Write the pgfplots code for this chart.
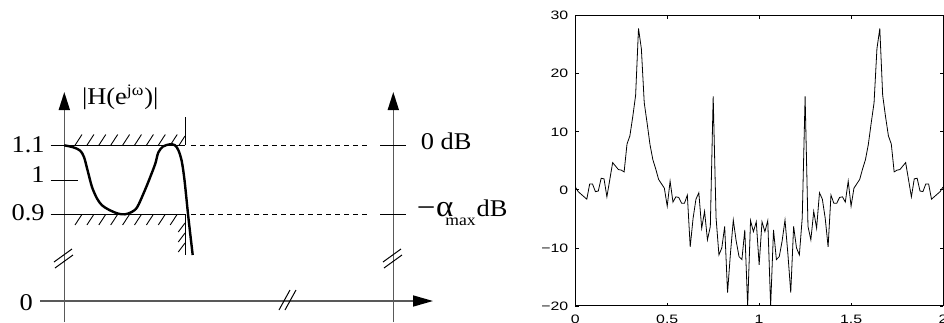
\documentclass[border=0pt]{standalone}
\usepackage{pgfplots}
\pgfplotsset{compat=1.18}
\usepackage{pgfplotstable}
\usepackage{fontspec}
\setmainfont[FakeStretch=1.1]{Liberation Serif}
\newfontfamily\plotsans[FakeStretch=1.3]{Liberation Sans}
\usetikzlibrary{arrows.meta}

\pgfplotstableread{
k y
0 0.5
1 -0.3
4 -1.6
5 1.0
6 1.0
7 -0.3
8 -0.2
9 2.0
10 1.9
11 -1.2
13 4.7
15 3.5
16 3.4
17 3.1
18 7.9
19 9.3
20 12.6
21 16.3
22 27.8
23 24.3
24 15.0
25 11.5
26 7.8
27 5.2
28 3.6
29 1.8
31 0.3
32 -2.8
33 1.5
34 -2.1
35 -1.2
36 -1.3
37 -2.3
38 -2.3
39 -0.9
40 -9.8
41 -4.9
42 -1.6
43 -0.5
44 -6.6
45 -3.7
46 -8.6
47 -6.3
48 16.1
49 -4.8
50 -11.2
51 -10.0
52 -6.3
53 -17.7
54 -11.0
55 -5.2
56 -8.8
57 -11.5
58 -12.0
59 -6.9
60 -20.0
61 -5.3
62 -7.2
63 -5.5
64 -12.9
65 -5.5
66 -7.2
67 -5.3
68 -20.0
69 -6.9
70 -12.0
71 -11.5
72 -8.8
73 -5.2
74 -11.0
75 -17.7
76 -6.3
77 -10.0
78 -11.2
79 -4.8
80 16.1
81 -6.3
82 -8.6
83 -3.7
84 -6.6
85 -0.5
86 -1.6
87 -4.9
88 -9.8
89 -0.9
90 -2.3
91 -2.3
92 -1.3
93 -1.2
94 -2.1
95 1.5
96 -2.8
97 0.3
99 1.8
100 3.6
101 5.2
102 7.8
103 11.5
104 15.0
105 24.3
106 27.8
107 16.3
108 12.6
109 9.3
110 7.9
111 3.1
112 3.4
113 3.5
115 4.7
117 -1.2
118 1.9
119 2.0
120 -0.2
121 -0.3
122 1.0
123 1.0
124 -1.6
127 -0.3
128 0.5
}\spectrum

\begin{document}
\begin{tikzpicture}[x=1pt,y=1pt]
% ---------------- left schematic (coordinates in reference pixels, y downwards)
\begin{axis}[
  at={(0pt,0pt)}, anchor=south west,
  scale only axis, width=236pt, height=161pt,
  xmin=0, xmax=472, ymin=0, ymax=322, y dir=reverse,
  hide axis, clip=false, unbounded coords=jump,
]
% axes with arrows
\addplot[black!65, line width=0.8pt, -{Triangle[length=9pt,width=5.5pt,black]}] coordinates {(64.3,322) (64.3,92)};
\addplot[black!65, line width=0.8pt, -{Triangle[length=9pt,width=5.5pt,black]}] coordinates {(393.3,322) (393.3,92)};
\addplot[black!65, line width=0.8pt, -{Triangle[length=10pt,width=5.5pt,black]}] coordinates {(40,301) (433,301)};
% break marks
\addplot[black, line width=0.5pt] coordinates {(54,262) (72,249) (nan,nan) (55,268) (73,255)};
\addplot[black, line width=0.5pt] coordinates {(383,262) (401,249) (nan,nan) (384,268) (402,255)};
\addplot[black, line width=0.5pt] coordinates {(279,310) (290,290) (nan,nan) (285,310) (296,290)};
% tolerance lines
\addplot[black, line width=0.5pt] coordinates {(50.7,145.3) (185,145.3) (nan,nan) (50.7,214.3) (185,214.3)};
\addplot[black, line width=0.5pt] coordinates {(50.7,180) (78,180)};
\addplot[black, line width=0.5pt] coordinates {(185,117) (185,145.3) (nan,nan) (185,214.3) (185,255)};
\addplot[black, line width=0.5pt, dash pattern=on 2.5pt off 2pt] coordinates {(191,145.3) (368,145.3) (nan,nan) (191,214.3) (368,214.3)};
\addplot[black, line width=0.5pt] coordinates {(380,145.3) (406,145.3) (nan,nan) (380,214.3) (406,214.3)};
% hatching above 1.1
\addplot[black, line width=0.45pt] coordinates {
 (75,145.3) (82,134.5) (nan,nan)
 (86.9,145.3) (93.9,134.5) (nan,nan)
 (98.8,145.3) (105.8,134.5) (nan,nan)
 (110.7,145.3) (117.7,134.5) (nan,nan)
 (122.6,145.3) (129.6,134.5) (nan,nan)
 (134.5,145.3) (141.5,134.5) (nan,nan)
 (146.4,145.3) (153.4,134.5) (nan,nan)
 (158.3,145.3) (165.3,134.5) (nan,nan)
 (170.2,145.3) (177.2,134.5) (nan,nan)
 (179,145.3) (185,136)};
% hatching below 0.9
\addplot[black, line width=0.45pt] coordinates {
 (75,225) (82,214.3) (nan,nan)
 (86.9,225) (93.9,214.3) (nan,nan)
 (98.8,225) (105.8,214.3) (nan,nan)
 (110.7,225) (117.7,214.3) (nan,nan)
 (122.6,225) (129.6,214.3) (nan,nan)
 (134.5,225) (141.5,214.3) (nan,nan)
 (146.4,225) (153.4,214.3) (nan,nan)
 (158.3,225) (165.3,214.3) (nan,nan)
 (170.2,225) (177.2,214.3) (nan,nan)
 (178.3,232) (185,223) (nan,nan)
 (178.3,242) (185,233) (nan,nan)
 (178.3,252) (185,243)};
% magnitude response curve
\addplot[black, line width=1.2pt, smooth, tension=0.5] coordinates {
 (64.3,145.3) (73.3,147.3) (80,150.5) (84,157) (88,172) (92,187) (97,198.5)
 (102,205.3) (109,209.8) (118,213.6) (125,214.3) (131.7,212) (137.3,207)
 (145,190) (151.7,173.3) (155.5,163) (158.3,152.5) (163,146.5) (170,144.3)
 (175,145.3) (178.5,150.5) (181.7,161) (184.5,180) (188.3,216.7) (192.7,255)};
% labels
\node[anchor=east, inner sep=0pt, font=\fontsize{12}{14}\selectfont] at (axis cs:45,144.5) {1.1};
\node[anchor=east, inner sep=0pt, font=\fontsize{12}{14}\selectfont] at (axis cs:45,174.3) {1};
\node[anchor=east, inner sep=0pt, font=\fontsize{12}{14}\selectfont] at (axis cs:45,213) {0.9};
\node[anchor=east, inner sep=0pt, font=\fontsize{12}{14}\selectfont] at (axis cs:33.3,302.8) {0};
\node[anchor=base west, inner sep=0pt, font=\fontsize{12}{14}\selectfont] at (axis cs:81.7,104) {|H(e\textsuperscript{jω})|};
\node[anchor=base west, inner sep=0pt, font=\fontsize{12}{14}\selectfont] at (axis cs:420.5,149) {0 dB};
\node[anchor=base west, inner sep=0pt, font=\fontsize{12}{14}\selectfont] at (axis cs:416.5,216) {\raisebox{-0.9pt}{\fontsize{15}{15}\selectfont −}\hspace{0.3pt}{\fontsize{15}{15}\selectfont α}\hspace{-4pt}\raisebox{-4.5pt}{\fontsize{8}{8}\selectfont max}\hspace{0.5pt}dB};
\end{axis}
% ---------------- right plot
\begin{axis}[
  at={(287.65pt,8pt)}, anchor=south west,
  scale only axis, width=183.85pt, height=145.15pt,
  xmin=0, xmax=128, ymin=-20, ymax=30,
  xtick={0,32,64,96,128}, xticklabels={0,0.5,1,1.5,2},
  ytick={-20,-10,0,10,20,30}, yticklabels={−20,−10,0,10,20,30},
  tick align=inside, major tick length=1.6pt,
  tick style={black, line width=0.4pt},
  axis line style={line width=0.5pt},
  ticklabel style={font=\plotsans\fontsize{6.1}{7}\selectfont},
  xticklabel style={yshift=-1pt},
]
\addplot[black, line width=0.4pt] table[x=k, y=y] {\spectrum};
\end{axis}
\pgfresetboundingbox
\path[use as bounding box] (0,0) rectangle (472pt,161pt);
\end{tikzpicture}
\end{document}
